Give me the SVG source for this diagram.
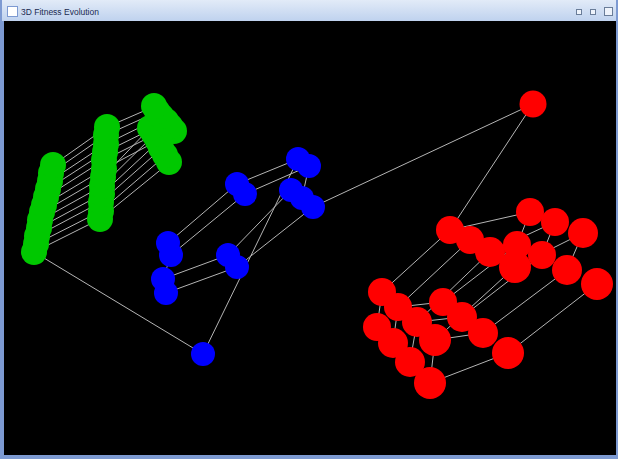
<svg xmlns="http://www.w3.org/2000/svg" width="618" height="459" viewBox="0 0 618 459">
<defs>
<linearGradient id="tb" x1="0" y1="0" x2="0" y2="1">
<stop offset="0" stop-color="#e2ebf8"/>
<stop offset="1" stop-color="#bfd2ee"/>
</linearGradient>
<style>
.g{fill:#00c800}
.b{fill:#0000ff}
.r{fill:#ff0000}
.ln line{stroke:#b4b4b4;stroke-width:1;fill:none}
.tt{font-family:"Liberation Sans",Arial,sans-serif;font-size:8.5px;fill:#1a2a50}
</style>
</defs>
<rect x="0" y="0" width="618" height="459" fill="#7d9ad2"/>
<rect x="2" y="0" width="614" height="21" fill="url(#tb)"/>
<rect x="4" y="21" width="612" height="434" fill="#000"/>
<g id="titlebar">
<rect x="7.5" y="6.5" width="10" height="10" fill="#fff" stroke="#7d9ad2"/>
<text class="tt" x="21" y="15">3D Fitness Evolution</text>
<rect x="576.5" y="9.5" width="5" height="5" fill="#eef3fb" stroke="#6a7d99"/>
<rect x="590.5" y="9.5" width="5" height="5" fill="#eef3fb" stroke="#6a7d99"/>
<rect x="604.5" y="7.5" width="8" height="8" fill="#eef3fb" stroke="#6a7d99"/>
</g>
<g id="connectors" class="ln">
<line x1="34" y1="252" x2="100" y2="219"/>
<line x1="36" y1="244" x2="101" y2="211"/>
<line x1="37" y1="236" x2="101" y2="202"/>
<line x1="39" y1="228" x2="102" y2="194"/>
<line x1="41" y1="220" x2="102" y2="186"/>
<line x1="43" y1="212" x2="103" y2="177"/>
<line x1="44" y1="205" x2="104" y2="169"/>
<line x1="46" y1="197" x2="104" y2="160"/>
<line x1="48" y1="189" x2="105" y2="152"/>
<line x1="50" y1="181" x2="106" y2="144"/>
<line x1="51" y1="173" x2="106" y2="135"/>
<line x1="53" y1="165" x2="107" y2="127"/>
<line x1="100" y1="219" x2="169" y2="163"/>
<line x1="101" y1="211" x2="165" y2="156"/>
<line x1="101" y1="202" x2="161" y2="149"/>
<line x1="102" y1="194" x2="158" y2="142"/>
<line x1="102" y1="186" x2="154" y2="135"/>
<line x1="103" y1="177" x2="150" y2="128"/>
<line x1="104" y1="169" x2="174" y2="132"/>
<line x1="104" y1="160" x2="170" y2="127"/>
<line x1="105" y1="152" x2="166" y2="122"/>
<line x1="106" y1="144" x2="161" y2="117"/>
<line x1="106" y1="135" x2="157" y2="112"/>
<line x1="107" y1="127" x2="153" y2="107"/>
<line x1="34" y1="252" x2="203" y2="354"/>
<line x1="203" y1="354" x2="298" y2="159"/>
<line x1="168" y1="243" x2="237" y2="184"/>
<line x1="171" y1="255" x2="245" y2="194"/>
<line x1="237" y1="184" x2="298" y2="159"/>
<line x1="245" y1="194" x2="309" y2="166"/>
<line x1="163" y1="279" x2="228" y2="255"/>
<line x1="166" y1="293" x2="237" y2="267"/>
<line x1="228" y1="255" x2="291" y2="190"/>
<line x1="237" y1="267" x2="313" y2="207"/>
<line x1="309" y1="166" x2="302" y2="198"/>
<line x1="171" y1="255" x2="163" y2="279"/>
<line x1="313" y1="207" x2="533" y2="104"/>
<line x1="533" y1="104" x2="450" y2="230"/>
<line x1="450" y1="230" x2="382" y2="292"/>
<line x1="470" y1="240" x2="398" y2="307"/>
<line x1="490" y1="252" x2="417" y2="322"/>
<line x1="515" y1="267" x2="435" y2="340"/>
<line x1="517" y1="245" x2="443" y2="302"/>
<line x1="542" y1="255" x2="462" y2="317"/>
<line x1="567" y1="270" x2="483" y2="333"/>
<line x1="597" y1="284" x2="508" y2="353"/>
<line x1="450" y1="230" x2="530" y2="212"/>
<line x1="490" y1="252" x2="555" y2="222"/>
<line x1="515" y1="267" x2="583" y2="233"/>
<line x1="530" y1="212" x2="517" y2="245"/>
<line x1="555" y1="222" x2="542" y2="255"/>
<line x1="583" y1="233" x2="567" y2="270"/>
<line x1="382" y1="292" x2="377" y2="327"/>
<line x1="398" y1="307" x2="393" y2="343"/>
<line x1="417" y1="322" x2="410" y2="362"/>
<line x1="435" y1="340" x2="430" y2="383"/>
<line x1="430" y1="383" x2="508" y2="353"/>
<line x1="435" y1="340" x2="483" y2="333"/>
<line x1="417" y1="322" x2="462" y2="317"/>
<line x1="398" y1="307" x2="443" y2="302"/>
</g>
<g id="green1"><circle class="g" cx="34" cy="252" r="13"/><circle class="g" cx="36" cy="244" r="13"/><circle class="g" cx="37" cy="236" r="13"/><circle class="g" cx="39" cy="228" r="13"/><circle class="g" cx="40" cy="220" r="13"/><circle class="g" cx="42" cy="212" r="13"/><circle class="g" cx="44" cy="205" r="13"/><circle class="g" cx="46" cy="197" r="13"/><circle class="g" cx="48" cy="189" r="13"/><circle class="g" cx="50" cy="181" r="13"/><circle class="g" cx="51" cy="173" r="13"/><circle class="g" cx="53" cy="165" r="13"/></g>
<g id="green2"><circle class="g" cx="100" cy="219" r="13"/><circle class="g" cx="101" cy="211" r="13"/><circle class="g" cx="101" cy="202" r="13"/><circle class="g" cx="102" cy="194" r="13"/><circle class="g" cx="102" cy="186" r="13"/><circle class="g" cx="103" cy="177" r="13"/><circle class="g" cx="104" cy="169" r="13"/><circle class="g" cx="104" cy="160" r="13"/><circle class="g" cx="105" cy="152" r="13"/><circle class="g" cx="106" cy="144" r="13"/><circle class="g" cx="106" cy="135" r="13"/><circle class="g" cx="107" cy="127" r="13"/></g>
<g id="green3"><circle class="g" cx="169" cy="162" r="13"/><circle class="g" cx="165" cy="155" r="13"/><circle class="g" cx="161" cy="148" r="13"/><circle class="g" cx="158" cy="141" r="13"/><circle class="g" cx="154" cy="134" r="13"/><circle class="g" cx="150" cy="128" r="13"/><circle class="g" cx="174" cy="131" r="13"/><circle class="g" cx="170" cy="126" r="13"/><circle class="g" cx="166" cy="121" r="13"/><circle class="g" cx="161" cy="116" r="13"/><circle class="g" cx="157" cy="111" r="13"/><circle class="g" cx="154" cy="106" r="13"/></g>
<g id="blueA"><circle class="b" cx="237" cy="184" r="12"/><circle class="b" cx="245" cy="194" r="12"/></g>
<g id="blueB"><circle class="b" cx="298" cy="159" r="12"/><circle class="b" cx="309" cy="166" r="12"/></g>
<g id="blueC"><circle class="b" cx="291" cy="190" r="12"/><circle class="b" cx="302" cy="198" r="12"/><circle class="b" cx="313" cy="207" r="12"/></g>
<g id="blueD"><circle class="b" cx="168" cy="243" r="12"/><circle class="b" cx="171" cy="255" r="12"/></g>
<g id="blueE"><circle class="b" cx="163" cy="279" r="12"/><circle class="b" cx="166" cy="293" r="12"/></g>
<g id="blueF"><circle class="b" cx="228" cy="255" r="12"/><circle class="b" cx="237" cy="267" r="12"/></g>
<g id="blueG"><circle class="b" cx="203" cy="354" r="12"/></g>
<g id="redTop"><circle class="r" cx="533" cy="104" r="13.5"/></g>
<g id="redBack"><circle class="r" cx="530" cy="212" r="14"/><circle class="r" cx="555" cy="222" r="14"/><circle class="r" cx="583" cy="233" r="15"/><circle class="r" cx="450" cy="230" r="14"/><circle class="r" cx="470" cy="240" r="14"/><circle class="r" cx="517" cy="245" r="14"/><circle class="r" cx="490" cy="252" r="15"/><circle class="r" cx="542" cy="255" r="14"/><circle class="r" cx="515" cy="267" r="16"/><circle class="r" cx="567" cy="270" r="15"/><circle class="r" cx="597" cy="284" r="16"/></g>
<g id="redFrontC"><circle class="r" cx="443" cy="302" r="14"/><circle class="r" cx="462" cy="317" r="15"/><circle class="r" cx="483" cy="333" r="15"/><circle class="r" cx="508" cy="353" r="16"/></g>
<g id="redFrontA"><circle class="r" cx="382" cy="292" r="14"/><circle class="r" cx="398" cy="307" r="14"/><circle class="r" cx="417" cy="322" r="15"/><circle class="r" cx="435" cy="340" r="16"/></g>
<g id="redFrontB"><circle class="r" cx="377" cy="327" r="14"/><circle class="r" cx="393" cy="343" r="15"/><circle class="r" cx="410" cy="362" r="15"/><circle class="r" cx="430" cy="383" r="16"/></g>
</svg>
